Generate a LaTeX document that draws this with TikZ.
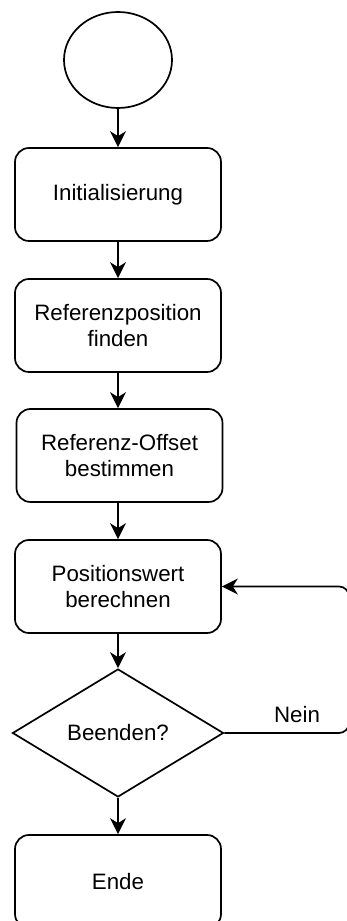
\documentclass[tikz,border=0pt]{standalone}
\usepackage{fontspec}
\setmainfont{Liberation Sans}
\usetikzlibrary{shapes.geometric,arrows.meta}
\begin{document}
\begin{tikzpicture}[x=1pt,y=1pt,
  every node/.style={font=\fontsize{22.3}{26.5}\selectfont},
  stepbox/.style={draw,line width=1.7pt,rounded corners=14pt,minimum width=206pt,minimum height=93pt,align=center,inner sep=0pt},
  decisionbox/.style={draw,line width=1.7pt,diamond,minimum width=211pt,minimum height=128pt,inner sep=0pt,align=center},
  startbox/.style={draw,line width=1.7pt,ellipse,minimum width=108pt,minimum height=96pt,inner sep=0pt},
  flow/.style={line width=1.7pt,-{Stealth[length=16pt,width=16pt,inset=5pt]}},
  plain/.style={font=\fontsize{22.3}{26.5}\selectfont}]
\useasboundingbox (0,0) rectangle (347,921);
\clip (0,0) rectangle (347,921);
\node[startbox] (start) at (118,861) {};
\node[stepbox] (init) at (118,726.5) {Initialisierung};
\node[stepbox] (ref) at (118,595.5) {Referenzposition\\finden};
\node[stepbox] (off) at (119.5,465.5) {Referenz-Offset\\bestimmen};
\node[stepbox] (pos) at (118,334.5) {Positionswert\\berechnen};
\node[decisionbox] (dec) at (118,188) {Beenden?};
\node[stepbox] (ende) at (118,39.5) {Ende};
\coordinate (c1) at (349,188);
\coordinate (c2) at (349,334.5);
\node[plain] (nein) at (297,206) {Nein};
\draw[flow] (start) -- (init);
\draw[flow] (init) -- (ref);
\draw[flow] (ref) -- (ref |- off.north);
\draw[flow] (off.south -| ref) -- (pos);
\draw[flow] (pos) -- (dec);
\draw[flow] (dec) -- (ende);
\draw[flow,rounded corners=10pt] (dec.east) -- (c1) -- (c2) -- (pos.east);
\end{tikzpicture}
\end{document}
